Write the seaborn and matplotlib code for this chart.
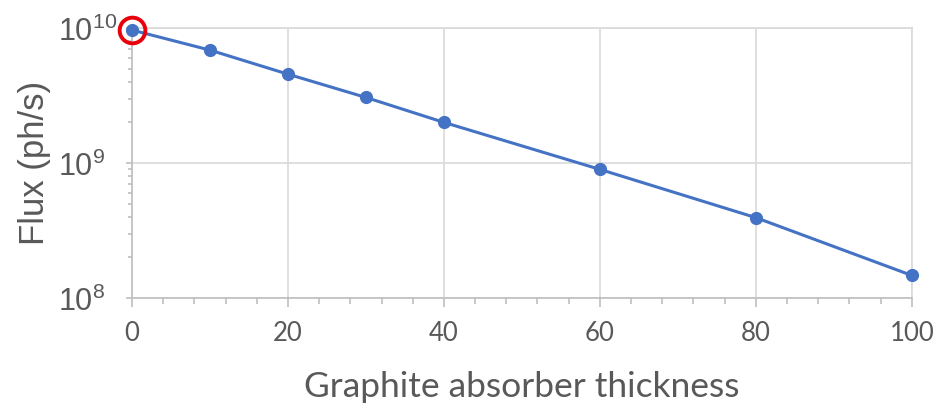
import numpy as np
import pandas as pd
import matplotlib.pyplot as plt
import seaborn as sns
from matplotlib.ticker import LogLocator, MultipleLocator, FuncFormatter, NullFormatter

thickness = [0, 10, 20, 30, 40, 60, 80, 100]
flux = [9.66e9, 6.86e9, 4.55e9, 3.06e9, 2.0e9, 8.97e8, 3.94e8, 1.47e8]

df = pd.DataFrame({"thickness": thickness, "flux": flux})

sns.set_style("white")
plt.rcParams["font.family"] = ["Lato", "DejaVu Sans"]
plt.rcParams["mathtext.fontset"] = "custom"
plt.rcParams["mathtext.rm"] = "Liberation Sans"
plt.rcParams["mathtext.default"] = "rm"

fig = plt.figure(figsize=(9.4, 4.03), dpi=100)
ax = fig.add_axes([0.1404, 0.2605, 0.8296, 0.67])

sns.lineplot(data=df, x="thickness", y="flux", ax=ax, color="#4472C4",
             linewidth=2.2, marker="o", markersize=9.5, markeredgewidth=0, zorder=3)
for ln in ax.lines:
    ln.set_clip_on(False)

# red circle highlighting the first point
ax.plot(thickness[0], flux[0], marker="o", markersize=18.5, markerfacecolor="none",
        markeredgecolor="#E8000B", markeredgewidth=2.8, linestyle="none",
        clip_on=False, zorder=4)

ax.set_yscale("log")
ax.set_xlim(0, 100)
ax.set_ylim(1e8, 1e10)

ax.xaxis.set_major_locator(MultipleLocator(20))
ax.xaxis.set_minor_locator(MultipleLocator(4))
ax.yaxis.set_major_locator(LogLocator(base=10))
ax.yaxis.set_minor_locator(LogLocator(base=10, subs=range(2, 10)))
ax.yaxis.set_major_formatter(FuncFormatter(lambda v, p: r"$\mathrm{10^{%d}}$" % round(np.log10(v))))
ax.yaxis.set_minor_formatter(NullFormatter())

ax.grid(True, which="major", color="#D9D9D9", linewidth=1.2)
for side in ["top", "right"]:
    ax.spines[side].set_color("#D9D9D9")
    ax.spines[side].set_linewidth(1.2)
for side in ["left", "bottom"]:
    ax.spines[side].set_color("#BFBFBF")
    ax.spines[side].set_linewidth(1.2)

ax.tick_params(axis="x", which="both", bottom=True)
ax.tick_params(axis="y", which="both", left=True)
ax.tick_params(axis="x", which="major", direction="out", length=6.5, width=1.2,
               color="#BFBFBF", labelsize=18.5, labelcolor="#595959", pad=10)
ax.tick_params(axis="x", which="minor", direction="out", length=4.5, width=1.2,
               color="#BFBFBF")
ax.tick_params(axis="y", which="major", direction="out", length=4.5, width=1.2,
               color="#BFBFBF", labelsize=22, labelcolor="#595959", pad=48.5)
ax.tick_params(axis="y", which="minor", direction="out", length=3, width=1.2,
               color="#BFBFBF")
for lab in ax.get_yticklabels():
    lab.set_horizontalalignment("left")

ax.set_xlabel("Graphite absorber thickness", fontsize=25.5, color="#595959", va="center")
ax.xaxis.set_label_coords(0.5, -0.33)
ax.set_ylabel("Flux (ph/s)", fontsize=25, color="#595959", va="center",
              family=["Liberation Sans", "DejaVu Sans"])
ax.yaxis.set_label_coords(-0.125, 0.5)

fig.savefig("out.png", dpi=100)
